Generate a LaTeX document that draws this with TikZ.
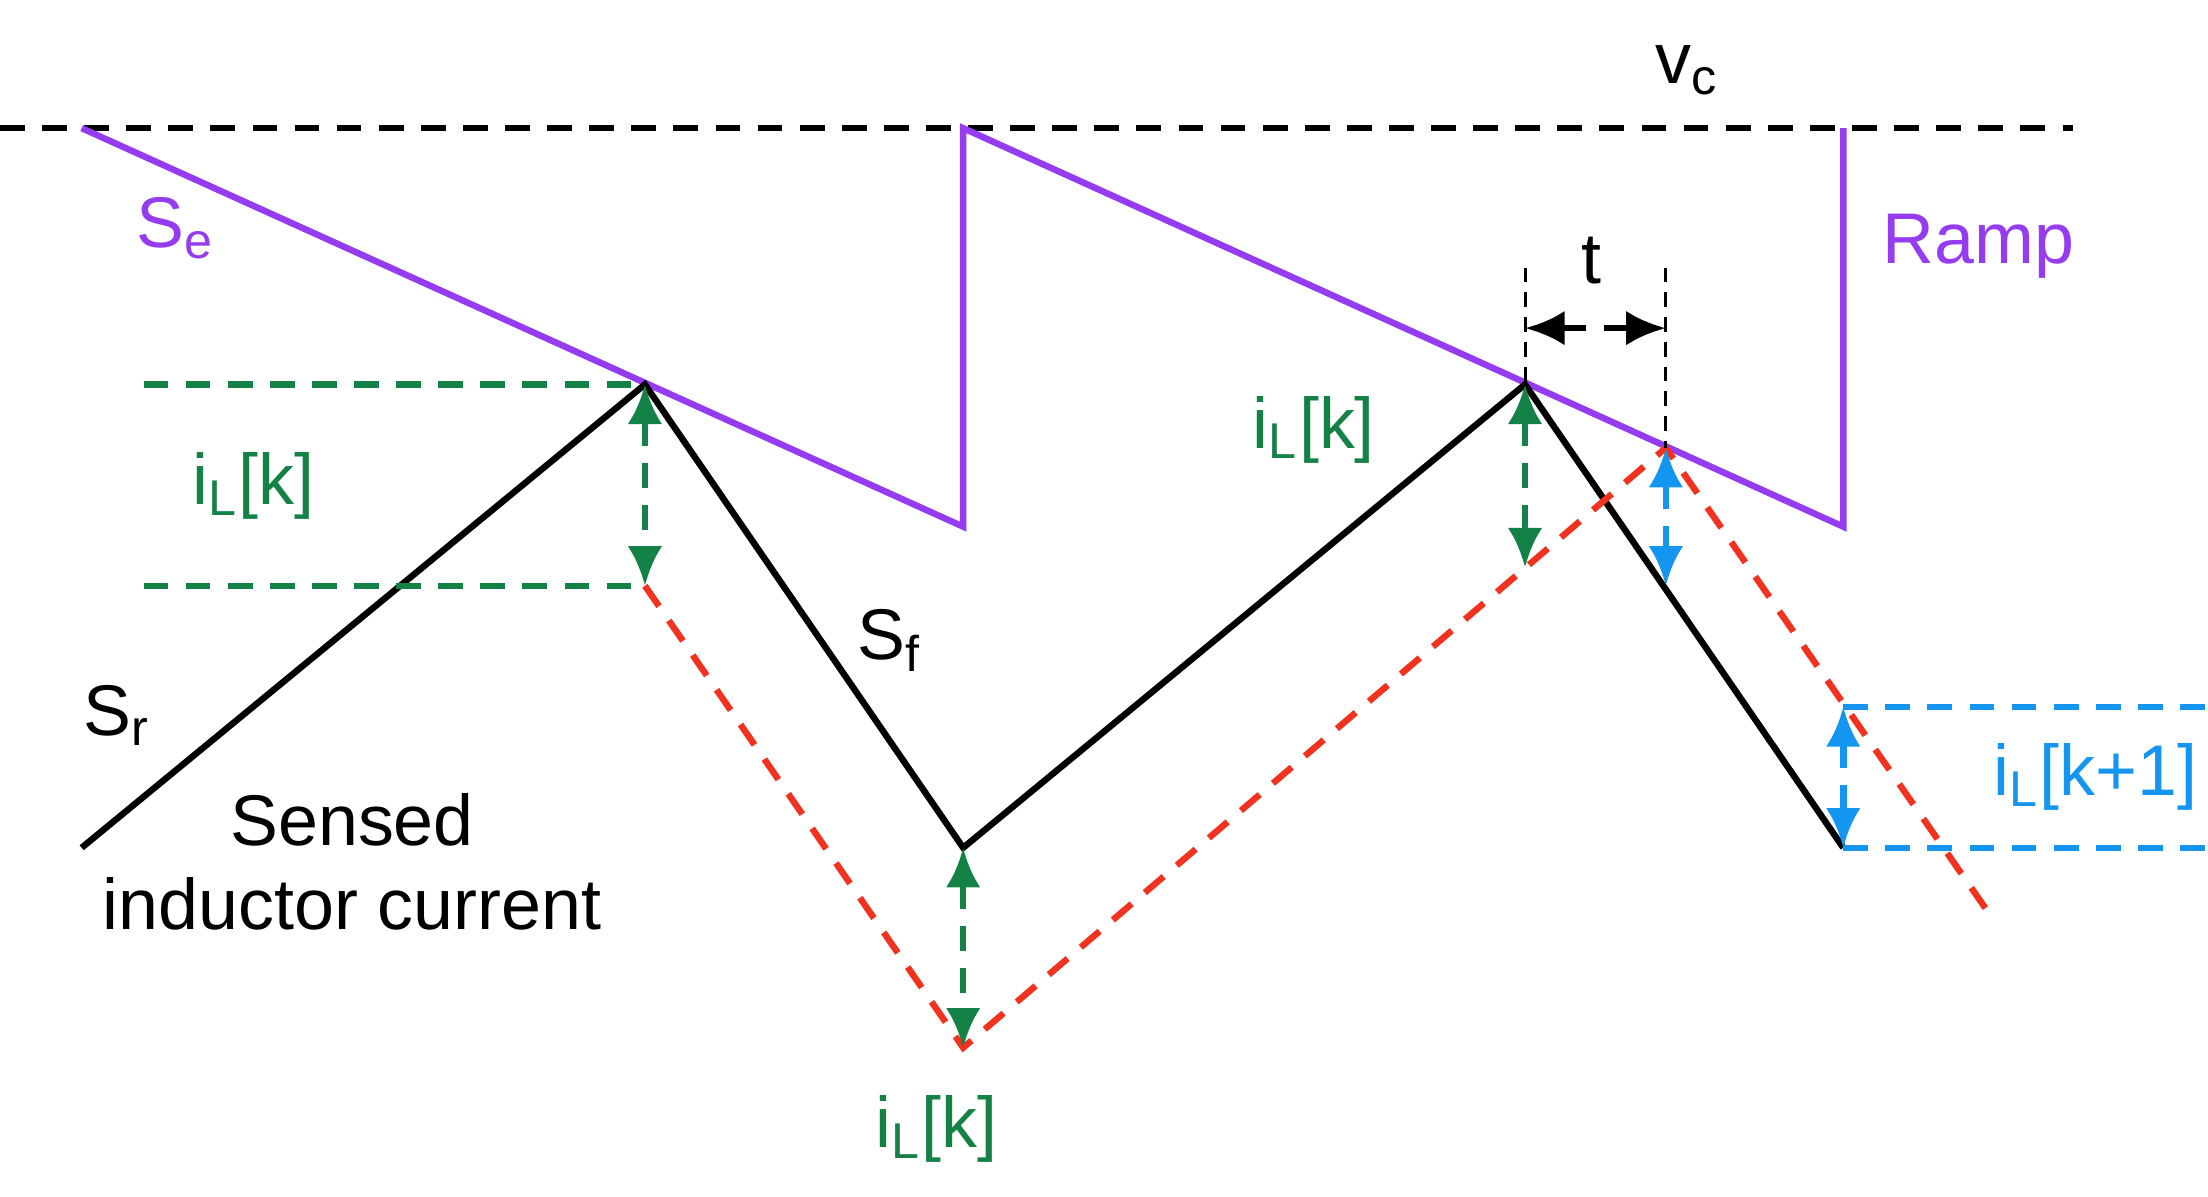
\documentclass[tikz,border=0pt]{standalone}
\usepackage{fontspec}
\setmainfont{Liberation Sans}
\usetikzlibrary{arrows.meta}
\definecolor{rampc}{RGB}{150,60,240}
\definecolor{iktc}{RGB}{20,130,70}
\definecolor{redc}{RGB}{240,50,30}
\definecolor{bluec}{RGB}{20,150,240}
\begin{document}
\begin{tikzpicture}[x=0.01cm,y=-0.01cm,line width=1.3pt,
    lbl/.style={font=\fontsize{14.5}{17}\selectfont,inner sep=1pt},
    dsh/.style={dash pattern=on 5pt off 3.5pt},
    dbl/.style={dsh,{Latex[length=8pt,width=7pt]}-{Latex[length=8pt,width=7pt]}}]
        \useasboundingbox (0,0) rectangle (1568,850);
        % control level
        \coordinate (vl) at (0,91); \coordinate (vr) at (1472,91);
        \draw [dsh] (vl) -- (vr);
        \node [lbl] (vc) at (1198,50) {v\textsubscript{c}};
        
        % ramp
        \draw [rampc] (58,91) -- (684,374) -- (684,91) -- (1309,374) -- (1309,91);
        \node [lbl,text=rampc] (se) at (125,162) {S\textsubscript{e}};
        \node [lbl,text=rampc] (ramp) at (1405,175) {Ramp};
        
        % inductor current
        \draw (58,602) -- (458,273) -- (684,602) -- (1083,273) -- (1309,602);
        \draw [redc,dsh] (458,416) -- (684,744) -- (1183,318) -- (1410,645);
        \node [lbl] (sr) at (83,508) {S\textsubscript{r}};
        \node [lbl] (sf) at (632,455) {S\textsubscript{f}};
        \node [lbl,align=center] (sensed) at (250,612) {Sensed\\inductor current};
        
        % perturbation
        \coordinate (p1) at (458,273); \coordinate (q1) at (458,416);
        \coordinate (p2) at (684,602); \coordinate (q2) at (684,744);
        \coordinate (p3) at (1083,273); \coordinate (q3) at (1083,403);
        \draw [iktc,dsh] (102,273) -- (p1); \draw [iktc,dsh] (102,416) -- (q1);
        \draw [iktc,dbl] (p1) -- (q1);
        \draw [iktc,dbl] (p2) -- (q2);
        \draw [iktc,dbl] (p3) -- (q3);
        \node [lbl,text=iktc] (ik1) at (180,345) {i\textsubscript{L}[k]};
        \node [lbl,text=iktc] (ik2) at (933,305) {i\textsubscript{L}[k]};
        \node [lbl,text=iktc] (ik3) at (665,802) {i\textsubscript{L}[k]};
        
        % next cycle
        \coordinate (b1) at (1183,318); \coordinate (c1) at (1183,416);
        \coordinate (b2) at (1309,502); \coordinate (c2) at (1309,602);
        \draw [bluec,dbl] (b1) -- (c1);
        \draw [bluec,dbl] (b2) -- (c2);
        \draw [bluec,dsh] (b2) -- (1568,502); \draw [bluec,dsh] (c2) -- (1568,602);
        \node [lbl,text=bluec] (ik4) at (1488,552) {i\textsubscript{L}[k+1]};
        
        % delay
        \draw [line width=0.6pt,dash pattern=on 3pt off 2pt] (1083,190) -- (p3);
        \draw [line width=0.6pt,dash pattern=on 3pt off 2pt] (1183,190) -- (b1);
        \draw [dbl] (1083,233) -- (1183,233);
        \node [lbl] (t) at (1130,185) {t};
\end{tikzpicture}
\end{document}
